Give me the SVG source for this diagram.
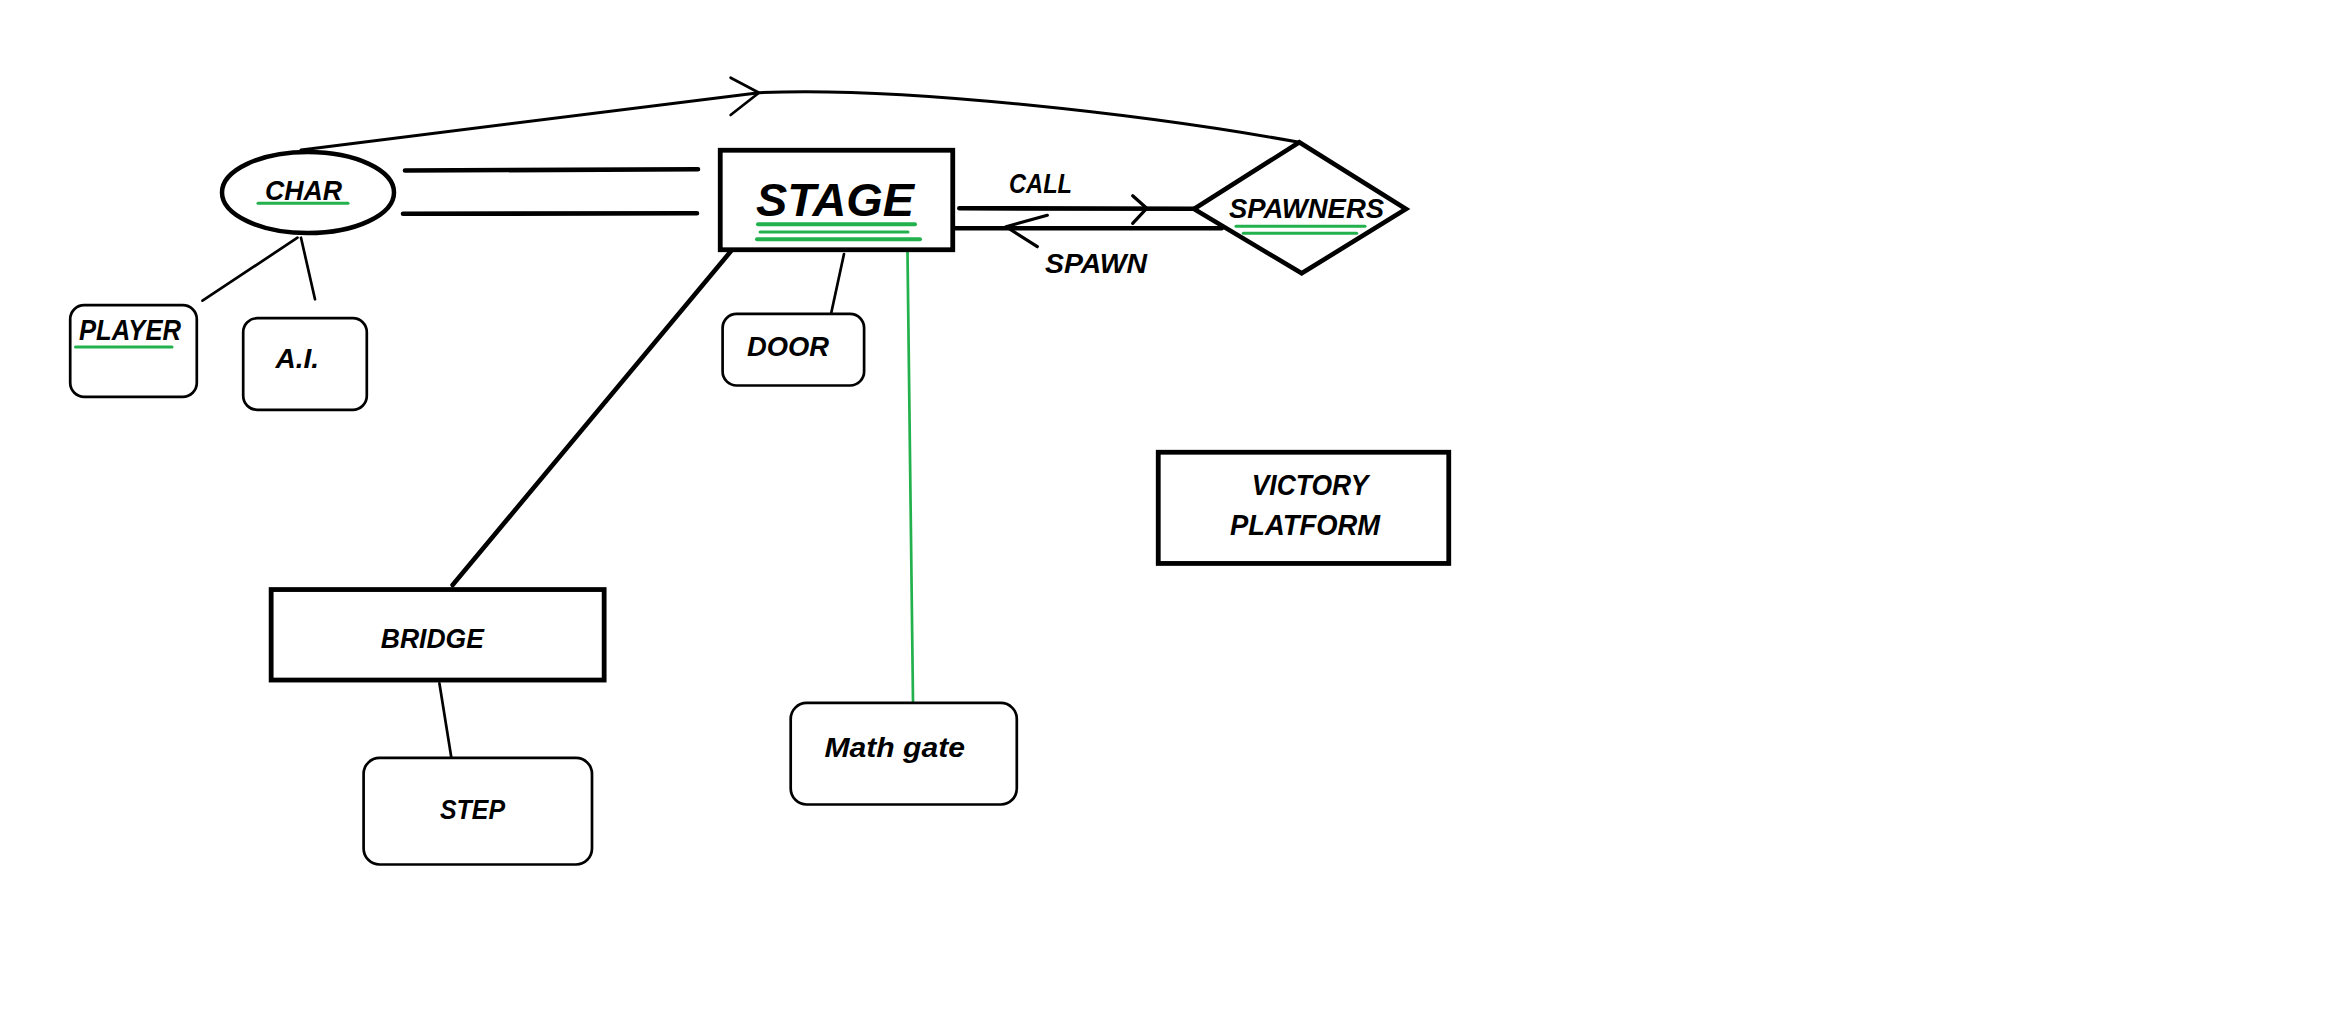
<svg xmlns="http://www.w3.org/2000/svg" width="2341" height="1018" viewBox="0 0 2341 1018">
<style>
.bg{fill:#ffffff}
.thick{fill:#ffffff;stroke:#000;stroke-width:4.8}
.soft{fill:#ffffff;stroke:#000;stroke-width:2.7}
.t{font-family:"Liberation Sans",Arial,sans-serif;font-weight:bold;font-style:italic;fill:#000}
.ln{fill:none;stroke:#000;stroke-linecap:round;stroke-linejoin:round}
.w1{stroke-width:2.7}
.w2{stroke-width:3.2}
.w3{stroke-width:4.6}
.g{fill:none;stroke:#22b14c;stroke-linecap:round}
</style>
<rect class="bg" x="0" y="0" width="2341" height="1018"/>
<g id="connectors">
  <path class="ln" stroke-width="3" d="M301,150 L759,92.7 C900,86 1150,115 1299.3,142.3"/>
  <path class="ln w1" d="M730.6,77.7 L759,92.7 L730.6,115"/>
  <path class="ln w3" d="M405,170.5 L698,169.3"/>
  <path class="ln w3" d="M403,213.8 L697,213.3"/>
  <path class="ln w1" d="M297.5,237.7 L202.5,300.7"/>
  <path class="ln w1" d="M301,237.7 L315,299.3"/>
  <path class="ln w3" d="M733.3,248.3 L452.6,585"/>
  <path class="ln w1" d="M844,254 L831,314"/>
  <path class="g" stroke-width="2.7" d="M907.5,252 L913,701"/>
  <path class="ln w3" d="M959.3,208.3 L1195,208.8"/>
  <path class="ln w2" d="M1132.7,195.7 L1146.7,208.3 L1132.7,223.3"/>
  <path class="ln w3" d="M955,228.3 L1221.7,228.3"/>
  <path class="ln w2" d="M1047.3,215.3 L1006,226.7 L1037.3,246.7"/>
  <path class="ln w1" d="M439.4,683.3 L451.4,758"/>
  <text class="t" x="1009" y="192.7" font-size="27" textLength="63" lengthAdjust="spacingAndGlyphs">CALL</text>
  <text class="t" x="1045" y="272.7" font-size="27" textLength="102" lengthAdjust="spacingAndGlyphs">SPAWN</text>
</g>
<g id="char">
  <ellipse cx="308" cy="192.5" rx="86" ry="40.5" fill="#fff" stroke="#000" stroke-width="4.5"/>
  <text class="t" x="265" y="200" font-size="28" textLength="77" lengthAdjust="spacingAndGlyphs">CHAR</text>
  <path class="g" stroke-width="3" d="M258,203.3 L348,203.3"/>
</g>
<g id="player">
  <rect class="soft" x="70.2" y="305.2" width="126.6" height="91.6" rx="14"/>
  <text class="t" x="79" y="340" font-size="29" textLength="102" lengthAdjust="spacingAndGlyphs">PLAYER</text>
  <path class="g" stroke-width="3" d="M75.5,347 L172,347"/>
</g>
<g id="ai">
  <rect class="soft" x="243.2" y="318.2" width="123.6" height="91.6" rx="14"/>
  <text class="t" x="275.5" y="368" font-size="28" textLength="43.5" lengthAdjust="spacingAndGlyphs">A.I.</text>
</g>
<g id="stage">
  <rect class="thick" x="720.25" y="150.25" width="232.5" height="99.5"/>
  <text class="t" x="756" y="215.5" font-size="47" textLength="158" lengthAdjust="spacingAndGlyphs">STAGE</text>
  <path class="g" stroke-width="4" d="M758,224.3 L915,224.3"/>
  <path class="g" stroke-width="3" d="M760,232 L908,232"/>
  <path class="g" stroke-width="4" d="M757,239.3 L920,239.3"/>
</g>
<g id="door">
  <rect class="soft" x="722.6" y="313.9" width="141.5" height="71.6" rx="14"/>
  <text class="t" x="747" y="356" font-size="28" textLength="82" lengthAdjust="spacingAndGlyphs">DOOR</text>
</g>
<g id="spawners">
  <polygon points="1299.3,142.3 1406,209 1301.7,273.3 1194,209" fill="#fff" stroke="#000" stroke-width="4.6" stroke-linejoin="miter"/>
  <text class="t" x="1229" y="218.3" font-size="27" textLength="155" lengthAdjust="spacingAndGlyphs">SPAWNERS</text>
  <path class="g" stroke-width="3" d="M1236,226.3 L1365,226.3"/>
  <path class="g" stroke-width="3" d="M1243.3,233.3 L1356.7,233.3"/>
</g>
<g id="bridge">
  <rect class="thick" x="271.15" y="589.55" width="333" height="90.5"/>
  <text class="t" x="380.8" y="648.3" font-size="27" textLength="103" lengthAdjust="spacingAndGlyphs">BRIDGE</text>
</g>
<g id="step">
  <rect class="soft" x="363.6" y="757.9" width="228.4" height="106.6" rx="16"/>
  <text class="t" x="440" y="819" font-size="27" textLength="65" lengthAdjust="spacingAndGlyphs">STEP</text>
</g>
<g id="mathgate">
  <rect class="soft" x="790.7" y="702.9" width="226.1" height="101.6" rx="16"/>
  <text class="t" x="824.5" y="757.3" font-size="28" textLength="140.5" lengthAdjust="spacingAndGlyphs">Math gate</text>
</g>
<g id="victory">
  <rect class="thick" x="1158.25" y="452.25" width="290.5" height="111.2"/>
  <text class="t" x="1251.7" y="495" font-size="29" textLength="116.6" lengthAdjust="spacingAndGlyphs">VICTORY</text>
  <text class="t" x="1230" y="535" font-size="29" textLength="150" lengthAdjust="spacingAndGlyphs">PLATFORM</text>
</g>
</svg>
